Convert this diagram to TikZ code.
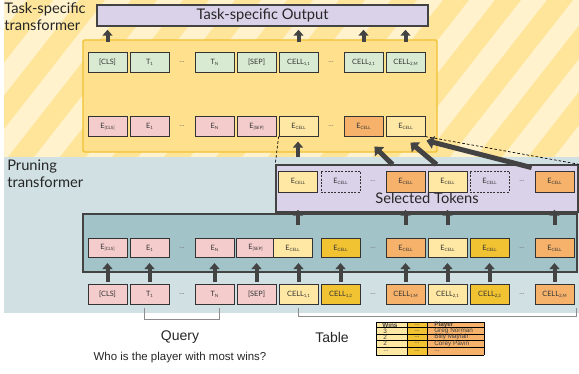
\documentclass[tikz,border=0pt]{standalone}
\usepackage{fontspec}
\setmainfont{Lato}
\newfontfamily\arialfont{Liberation Sans}
\usetikzlibrary{arrows.meta,calc}

\definecolor{creamc}{HTML}{FFF2CC}
\definecolor{stripec}{HTML}{FFE599}
\definecolor{taskfill}{HTML}{FFE08C}
\definecolor{taskline}{HTML}{F1C232}
\definecolor{prunebg}{HTML}{D0E0E3}
\definecolor{prunefill}{HTML}{A2C4C9}
\definecolor{lilac}{HTML}{D9D2E9}
\definecolor{pinkc}{HTML}{F4CCCC}
\definecolor{greenc}{HTML}{D9EAD3}
\definecolor{lyel}{HTML}{FFE8A3}
\definecolor{dyel}{HTML}{F1C232}
\definecolor{orng}{HTML}{F6B26B}
\definecolor{arrowc}{HTML}{434343}
\definecolor{tokline}{HTML}{333333}

\newcommand{\tsub}[1]{{\fontsize{3.3}{3.3}\selectfont\raisebox{-0.5ex}{#1}}}

\tikzset{
  tok/.style={draw=tokline, line width=0.6pt, minimum width=29.25pt, minimum height=14.5pt, inner sep=0pt, font=\fontsize{5.5}{6}\selectfont, text=black!80},
  ghost/.style={tok, dashed, dash pattern=on 1.5pt off 1pt, fill=lilac},
  dots/.style={font=\fontsize{5.5}{6}\selectfont, text=black!55},
  frame/.style={draw=arrowc, line width=1.1pt, inner sep=0pt},
  blk/.style={draw=arrowc, line width=3pt, -{Triangle[width=7.5pt,length=4.5pt]}},
  bigblk/.style={draw=arrowc, line width=3.75pt, -{Triangle[width=9.5pt,length=5.5pt]}},
  zoomline/.style={black, line width=0.5pt, dash pattern=on 2pt off 1.5pt},
  bracket/.style={draw=black!45, line width=0.5pt},
  biglabel/.style={font=\fontsize{11}{12.75}\selectfont, text=black!85, inner sep=0pt},
  tabtxt/.style={font=\arialfont\fontsize{4.8}{5}\selectfont, text=black!75, inner sep=0pt}
}

\begin{document}
\begin{tikzpicture}[x=0.75pt,y=0.75pt,yscale=-1,xscale=1]
\useasboundingbox (0,0) rectangle (579,374);

% striped background of the task-specific part
\begin{scope}
  \clip (4,0) rectangle (579,157);
  \fill[creamc] (4,0) rectangle (579,157);
  \foreach \k in {-9,...,6}{
    \fill[stripec] ({320+52*\k},157) -- ({346+52*\k},157) -- ({469+52*\k},0) -- ({443+52*\k},0) -- cycle;
  }
\end{scope}
% background of the pruning part
\fill[prunebg] (4,157) rectangle (579,313);

% section labels
\node[biglabel, anchor=north west, align=left] (tasklbl) at (4,2) {Task-specific\\transformer};
\node[biglabel, anchor=north west, align=left] (prunelbl) at (7,160) {Pruning\\transformer};

% output box
\node[frame, fill=lilac, minimum width=248.25pt, minimum height=15.75pt, font=\fontsize{11}{12}\selectfont, text=black!85] (outbox) at (262.5,15.5) {Task-specific Output};

% task-specific transformer
\node[draw=taskline, line width=1.1pt, fill=taskfill, rounded corners=1pt, minimum width=265.5pt, minimum height=84pt, inner sep=0pt] (task) at (260,96) {};

% task-specific: output tokens
\node[tok, fill=greenc] (tcls) at (107.5,62.5) {[CLS]};
\node[tok, fill=greenc] (tt1) at (149.5,62.5) {T\tsub{1}};
\node[dots] (tdots1) at (182,62.5) {...};
\node[tok, fill=greenc] (ttn) at (214.5,62.5) {T\tsub{N}};
\node[tok, fill=greenc] (tsep) at (256.5,62.5) {[SEP]};
\node[tok, fill=greenc] (tc11) at (298.5,62.5) {CELL\tsub{1,1}};
\node[dots] (tdots2) at (331,62.5) {...};
\node[tok, fill=greenc] (tc21) at (363.5,62.5) {CELL\tsub{2,1}};
\node[tok, fill=greenc] (tc2m) at (405.5,62.5) {CELL\tsub{2,M}};

% task-specific: embeddings
\node[tok, fill=pinkc] (tecls) at (107.5,126.5) {E\tsub{[CLS]}};
\node[tok, fill=pinkc] (te1) at (149.5,126.5) {E\tsub{1}};
\node[dots] (tdots3) at (182,126.5) {...};
\node[tok, fill=pinkc] (ten) at (214.5,126.5) {E\tsub{N}};
\node[tok, fill=pinkc] (tesep) at (256.5,126.5) {E\tsub{[SEP]}};
\node[tok, fill=lyel] (tec1) at (298.5,126.5) {E\tsub{CELL}};
\node[dots] (tdots4) at (331,126.5) {...};
\node[tok, fill=orng] (tec2) at (363.5,126.5) {E\tsub{CELL}};
\node[tok, fill=lyel] (tec3) at (405.5,126.5) {E\tsub{CELL}};

\foreach \n in {tcls,tc11,tc21,tc2m}
  \draw[blk, shorten <=-2.25pt, shorten >=2.25pt] (\n.north |- task.north) -- (\n.north |- outbox.south);

% pruning transformer
\node[frame, fill=prunefill, minimum width=370.5pt, minimum height=43.5pt] (prune) at (330,243) {};

% selected tokens
\node[frame, fill=lilac, minimum width=226.5pt, minimum height=35.25pt] (sel) at (427,188.5) {};
\node[font=\fontsize{11}{12}\selectfont, text=black!85, inner sep=0pt] (sellbl) at (427,198) {Selected Tokens};
\node[tok, fill=lyel, minimum height=15.75pt] (sc1) at (298,181.5) {E\tsub{CELL}};
\node[ghost, minimum height=15.75pt] (sg1) at (340.5,181.5) {E\tsub{CELL}};
\node[dots] (sdots1) at (373,181.5) {...};
\node[tok, fill=orng, minimum height=15.75pt] (sc2) at (405.5,181.5) {E\tsub{CELL}};
\node[tok, fill=lyel, minimum height=15.75pt] (sc3) at (447.5,181.5) {E\tsub{CELL}};
\node[ghost, minimum height=15.75pt] (sg2) at (489.5,181.5) {E\tsub{CELL}};
\node[dots] (sdots2) at (522,181.5) {...};
\node[tok, fill=orng, minimum height=15.75pt] (sc4) at (554.5,181.5) {E\tsub{CELL}};

% zoom lines
\draw[zoomline] (tec1.south west) -- (sel.north west);
\draw[zoomline] (tec3.south east) -- (sel.north east);

% selected -> task-specific
\draw[blk, shorten <=10.5pt, shorten >=3.75pt] (sc1.north) -- (sc1.north |- tec1.south);
\draw[bigblk] ($(sc2.north west)+(7,-6)$) -- ($(tec2.south east)+(-9,10)$);
\draw[bigblk] ($(sc3.north west)+(9,-6)$) -- ($(tec3.south east)+(-15,6)$);
\draw[bigblk] ($(sc4.north west)+(-3,-3)$) -- ($(tec3.south east)+(1,4)$);

% pruning: embeddings
\node[tok, fill=pinkc] (pecls) at (107.5,248) {E\tsub{[CLS]}};
\node[tok, fill=pinkc] (pe1) at (149.5,248) {E\tsub{1}};
\node[dots] (pdots1) at (182,248) {...};
\node[tok, fill=pinkc] (pen) at (214.5,248) {E\tsub{N}};
\node[tok, fill=pinkc] (pesep) at (255.5,248) {E\tsub{[SEP]}};
\node[tok, fill=lyel] (pec1) at (292.5,248) {E\tsub{CELL}};
\node[tok, fill=dyel] (pec2) at (340.5,248) {E\tsub{CELL}};
\node[dots] (pdots2) at (373,248) {...};
\node[tok, fill=orng] (pec3) at (405.5,248) {E\tsub{CELL}};
\node[tok, fill=lyel] (pec4) at (447.5,248) {E\tsub{CELL}};
\node[tok, fill=dyel] (pec5) at (489.5,248) {E\tsub{CELL}};
\node[dots] (pdots3) at (522,248) {...};
\node[tok, fill=orng] (pec6) at (554.5,248) {E\tsub{CELL}};

% pruning -> selected
\foreach \n in {sc1,sc2,sc3,sc4}
  \draw[blk, shorten <=9.75pt, shorten >=-2.25pt] (\n.south |- pec1.north) -- (\n.south |- sel.south);

% input tokens
\node[tok, fill=pinkc] (icls) at (107.5,294.5) {[CLS]};
\node[tok, fill=pinkc] (it1) at (149.5,294.5) {T\tsub{1}};
\node[dots] (idots1) at (182,294.5) {...};
\node[tok, fill=pinkc] (itn) at (214.5,294.5) {T\tsub{N}};
\node[tok, fill=pinkc] (isep) at (256.5,294.5) {[SEP]};
\node[tok, fill=lyel] (ic11) at (298.5,294.5) {CELL\tsub{1,1}};
\node[tok, fill=dyel] (ic12) at (340.5,294.5) {CELL\tsub{1,2}};
\node[dots] (idots2) at (373,294.5) {...};
\node[tok, fill=orng] (ic1m) at (405.5,294.5) {CELL\tsub{1,M}};
\node[tok, fill=lyel] (ic21) at (447.5,294.5) {CELL\tsub{2,1}};
\node[tok, fill=dyel] (ic22) at (489.5,294.5) {CELL\tsub{2,2}};
\node[dots] (idots3) at (522,294.5) {...};
\node[tok, fill=orng] (ic2m) at (554.5,294.5) {CELL\tsub{2,M}};

% input -> pruning
\foreach \n in {icls,it1,itn,isep,ic11,ic12,ic1m,ic21,ic22,ic2m}
  \draw[blk, shorten <=1.5pt, shorten >=3.75pt] (\n.north) -- (\n.north |- pecls.south);

% brackets
\draw[bracket] ($(it1.south)+(-5.5,3)$) -- ++(0,12) -| ($(itn.south)+(4.5,3)$);
\draw[bracket] ($(ic11.south)+(0,3)$) -- ++(0,9) -| ($(ic2m.south east)+(2,3)$);

% query and table labels
\node[font=\arialfont\fontsize{10.5}{12}\selectfont, text=black!85] (query) at (180,337) {Query};
\node[font=\arialfont\fontsize{8.6}{10}\selectfont, text=black!85] (question) at (180,358) {Who is the player with most wins?};
\node[font=\arialfont\fontsize{10.5}{12}\selectfont, text=black!85] (tablelbl) at (332,337) {Table};

% small table
\fill[lyel] (376,322) rectangle (407,355);
\fill[dyel] (407,322) rectangle (427,355);
\fill[orng] (427,322) rectangle (484,355);
\foreach \y in {322,327.5,334,340,347,355}
  \draw[line width=0.6pt] (376,\y) -- (484,\y);
\foreach \x in {376,407,427,484}
  \draw[line width=0.6pt] (\x,322) -- (\x,355);
\node[tabtxt, anchor=west, font=\arialfont\bfseries\fontsize{4.8}{5}\selectfont] (hwins) at (382,324.8) {Wins};
\node[tabtxt] (hmid) at (417,324.8) {...};
\node[tabtxt, anchor=west, font=\arialfont\bfseries\fontsize{4.8}{5}\selectfont] (hplayer) at (434,324.8) {Player};
\node[tabtxt, anchor=west] (w1) at (383,330.8) {3};
\node[tabtxt] (m1) at (417,330.8) {...};
\node[tabtxt, anchor=west] (p1) at (434,330.8) {Greg Norman};
\node[tabtxt, anchor=west] (w2) at (383,337) {2};
\node[tabtxt] (m2) at (417,337) {...};
\node[tabtxt, anchor=west] (p2) at (434,337) {Billy Mayfair};
\node[tabtxt, anchor=west] (w3) at (383,343.5) {2};
\node[tabtxt] (m3) at (417,343.5) {...};
\node[tabtxt, anchor=west] (p3) at (434,343.5) {Corey Pavin};
\node[tabtxt, anchor=west] (w4) at (383,351) {...};
\node[tabtxt] (m4) at (417,351) {...};
\node[tabtxt, anchor=west] (p4) at (434,351) {...};

\end{tikzpicture}
\end{document}
